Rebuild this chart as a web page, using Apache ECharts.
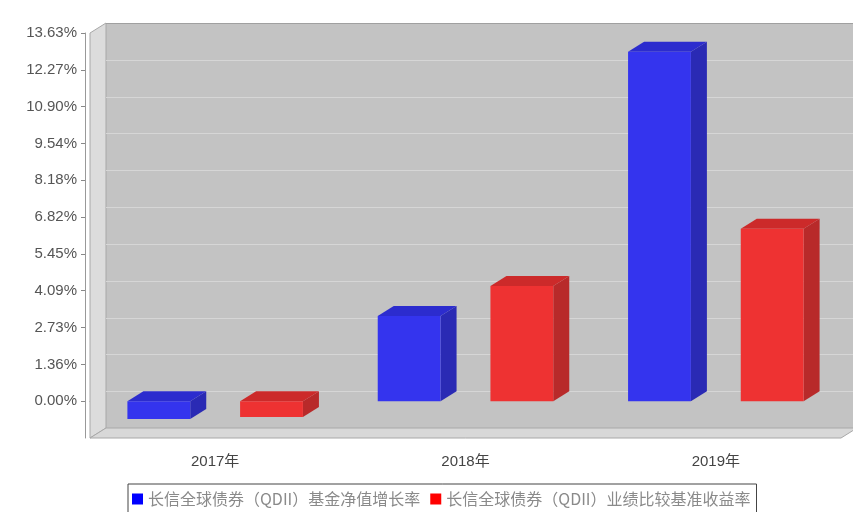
<!DOCTYPE html>
<html>
<head>
<meta charset="utf-8">
<script src="https://cdn.jsdelivr.net/npm/echarts@6/dist/echarts.min.js"></script>
<style>html,body{margin:0;padding:0;background:#fff;}#c{width:853px;height:512px;}</style>
</head>
<body>
<div id="c"></div>
<script>
const categories = ['2017年', '2018年', '2019年'];
const seriesNames = ['长信全球债券（QDII）基金净值增长率', '长信全球债券（QDII）业绩比较基准收益率'];
const navGrowth = [-0.66, 3.15, 12.94];
const benchmark = [-0.59, 4.26, 6.38];
const yTicks = [0, 1.363, 2.726, 4.089, 5.452, 6.815, 8.178, 9.541, 10.904, 12.267, 13.63];
const yMin = -1.363, yMax = 13.63, yInterval = 1.363;

const DX = 16, DY = 10;
const faceColors = [
  { front: '#3434ee', top: '#2c2cce', side: '#2a2ab4' },
  { front: '#ee3232', top: '#cc2a2a', side: '#b82a2a' }
];

function wallsRender(params, api) {
  const cs = params.coordSys;
  const L = cs.x, R = cs.x + cs.width, T = cs.y, B = cs.y + cs.height;
  const children = [];
  children.push({ type: 'rect', shape: { x: L + DX, y: T - DY, width: cs.width, height: cs.height }, style: { fill: '#c3c3c3' } });
  children.push({ type: 'polygon', shape: { points: [[L, T], [L + DX, T - DY], [L + DX, B - DY], [L, B]] }, style: { fill: '#dcdcdc', stroke: '#a8a8a8', lineWidth: 1 } });
  children.push({ type: 'polygon', shape: { points: [[L, B], [L + DX, B - DY], [R + DX, B - DY], [R, B]] }, style: { fill: '#d8d8d8', stroke: '#a8a8a8', lineWidth: 1 } });
  yTicks.forEach(function (v) {
    const y = Math.round(api.coord([0, v])[1] - DY) + 0.5;
    children.push({ type: 'line', shape: { x1: L + DX, y1: y, x2: R + DX, y2: y }, style: { stroke: '#d6d6d6', lineWidth: 1 } });
  });
  children.push({ type: 'line', shape: { x1: L + DX, y1: T - DY + 0.5, x2: R + DX, y2: T - DY + 0.5 }, style: { stroke: '#a0a0a0', lineWidth: 1 } });
  return { type: 'group', children: children, silent: true };
}

function makeBarRender(sIdx) {
  return function (params, api) {
    const cat = api.value(0), v = api.value(1);
    const p0 = api.coord([cat, 0]);
    const p1 = api.coord([cat, v]);
    const band = api.size([1, 0])[0];
    const barW = band * 63 / 251;
    const off = band * 56.5 / 251 * (sIdx === 0 ? -1 : 1);
    const cx = p0[0] + off;
    const x0 = cx - barW / 2, x1 = cx + barW / 2;
    const yT = Math.min(p0[1], p1[1]), yB = Math.max(p0[1], p1[1]);
    const c = faceColors[sIdx];
    return {
      type: 'group',
      children: [
        { type: 'polygon', shape: { points: [[x1, yT], [x1 + DX, yT - DY], [x1 + DX, yB - DY], [x1, yB]] }, style: { fill: c.side } },
        { type: 'polygon', shape: { points: [[x0, yT], [x1, yT], [x1 + DX, yT - DY], [x0 + DX, yT - DY]] }, style: { fill: c.top } },
        { type: 'rect', shape: { x: x0, y: yT, width: barW, height: yB - yT }, style: { fill: c.front } }
      ]
    };
  };
}

const chart = echarts.init(document.getElementById('c'), null, { renderer: 'canvas' });
chart.setOption({
  backgroundColor: '#ffffff',
  animation: false,
  grid: { left: 90, right: 12, top: 33, bottom: 74, containLabel: false },
  xAxis: {
    type: 'category',
    data: categories,
    offset: 5,
    axisLine: { lineStyle: { color: '#999' } },
    axisTick: { alignWithLabel: true, length: 4, lineStyle: { color: '#888' } },
    axisLabel: { color: '#444', fontSize: 15, fontFamily: 'Liberation Sans, Noto Sans CJK SC', margin: 11 },
    splitLine: { show: false }
  },
  yAxis: {
    type: 'value',
    min: yMin, max: yMax, interval: yInterval,
    offset: 5,
    axisLine: { show: true, lineStyle: { color: '#999' } },
    axisTick: { show: true, length: 4, lineStyle: { color: '#888' } },
    axisLabel: {
      showMinLabel: false,
      color: '#555', fontSize: 15, fontFamily: 'Liberation Sans', margin: 8,
      formatter: function (v) { if (Math.abs(v) < 1e-9) v = 0; return v.toFixed(2) + '%'; }
    },
    splitLine: { show: false }
  },
  legend: {
    data: seriesNames,
    left: 128, top: 484,
    orient: 'horizontal',
    icon: 'rect',
    itemWidth: 11, itemHeight: 11, itemGap: 10,
    padding: [7, 6, 8, 4],
    borderColor: '#444', borderWidth: 1,
    textStyle: { color: '#8a8a8a', fontSize: 16, fontFamily: 'Noto Sans CJK SC' },
    selectedMode: false
  },
  series: [
    { type: 'custom', name: 'walls', silent: true, z: 1, renderItem: wallsRender, data: [[0, 0]], encode: { x: 0, y: 1 } },
    { type: 'custom', name: seriesNames[0], z: 3, itemStyle: { color: '#0000ff' }, renderItem: makeBarRender(0),
      data: navGrowth.map(function (v, i) { return [i, v]; }), encode: { x: 0, y: 1 } },
    { type: 'custom', name: seriesNames[1], z: 3, itemStyle: { color: '#ff0000' }, renderItem: makeBarRender(1),
      data: benchmark.map(function (v, i) { return [i, v]; }), encode: { x: 0, y: 1 } }
  ]
});
</script>
</body>
</html>
